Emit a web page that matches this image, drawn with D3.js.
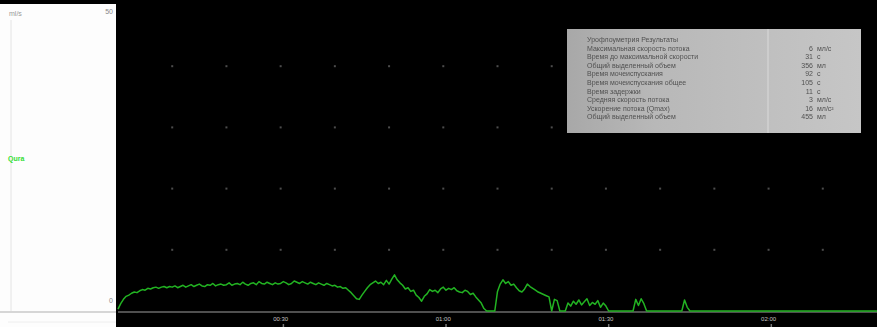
<!DOCTYPE html>
<html>
<head>
<meta charset="utf-8">
<script src="https://cdn.jsdelivr.net/npm/d3@7"></script>
<style>
  body { margin: 0; background: #000; }
  svg { display: block; }
</style>
</head>
<body>
<svg id="chart" width="877" height="327"></svg>
<script>
// flow rate, ml/s, every 0.5 s from 0 s
var flow = [
  0.3,1.2,1.9,2.4,2.6,2.9,3.1,3.0,3.3,3.5,
  3.4,3.7,3.6,3.8,3.9,3.7,3.9,4.0,3.8,4.0,
  3.9,4.1,3.8,4.0,4.2,3.9,4.1,4.3,4.0,4.2,
  4.4,4.1,4.0,4.3,4.2,4.5,4.1,4.3,4.4,4.2,
  4.3,4.6,4.2,4.4,4.5,4.3,4.7,4.4,4.2,4.5,
  4.6,4.3,4.8,4.5,4.4,4.7,4.5,4.3,4.6,4.4,
  4.5,4.8,4.6,4.3,4.5,4.9,4.7,4.5,4.8,4.6,
  4.4,4.7,4.5,4.3,4.6,4.4,4.2,4.5,4.3,4.1,
  4.2,3.9,4.0,3.7,3.8,3.4,3.0,2.5,2.0,1.9,
  2.6,3.2,3.8,4.3,4.6,4.9,4.5,4.7,4.3,5.0,
  4.4,5.2,5.9,5.1,4.6,4.2,3.6,3.8,3.2,3.4,
  2.6,2.2,1.6,2.4,2.8,3.5,3.2,3.4,3.0,3.6,
  3.9,3.4,3.7,3.5,3.8,3.3,3.1,3.0,3.4,3.2,
  2.7,2.9,2.3,1.8,1.3,0.4,0,0,0,0,
  3.2,4.4,5.1,4.5,4.8,4.2,4.4,3.8,3.3,3.1,
  3.6,4.4,4.0,3.7,3.4,3.1,2.9,2.7,2.5,2.3,
  0,1.9,1.7,0,0,0,1.3,0.8,1.6,1.1,
  1.8,1.0,1.5,2.0,0.9,1.4,1.1,1.7,0.6,1.3,
  0.8,0,0,0,0,0,0,0,0,0,
  0,1.9,0.9,2.0,1.2,0,0,0,0,0,
  0,0,0,0,0,0,0,0,0,1.8,
  0.6,0,0,0,0,0,0,0,0,0,
  0,0,0,0,0,0,0,0,0,0,
  0,0,0,0,0,0,0,0,0,0,
  0,0,0,0,0,0,0,0,0,0,
  0,0,0,0,0,0,0,0,0,0,
  0,0,0,0,0,0,0,0,0,0,
  0,0,0,0,0,0,0,0,0,0,
  0
];
var step = 0.5;
var timeTicks = [30, 60, 90, 120];
var timeLabels = ["00:30", "01:00", "01:30", "02:00"];
var gridTimes = [10,20,30,40,50,60,70,80,90,100,110,120,130];
var gridFlows = [10,20,30,40];
var yTicks = [0, 50];
var yUnit = "ml/s";
var seriesName = "Qura";

var infoNames = [
  "Урофлоуметрия Результаты",
  "Максимальная скорость потока",
  "Время до максимальной скорости",
  "Общий выделенный объем",
  "Время мочеиспускания",
  "Время мочеиспускания общее",
  "Время задержки",
  "Средняя скорость потока",
  "Ускорение потока (Qmax)",
  "Общий выделенный объем"
];
var infoValues = ["", "6", "31", "356", "92", "105", "11", "3", "16", "455"];
var infoUnits = ["", "мл/с", "с", "мл", "с", "с", "с", "мл/с", "мл/с²", "мл"];

var svg = d3.select("#chart"),
    W = +svg.attr("width"),
    H = +svg.attr("height"),
    plotLeft = 118, plotTop = 5, base = 311;

var x = d3.scaleLinear().domain([0, 140]).range([plotLeft, W]);
var y = d3.scaleLinear().domain([0, 50]).range([base, plotTop]);

svg.append("rect").attr("width", W).attr("height", H).attr("fill", "#000");

// left panel
svg.append("rect").attr("x", 0).attr("y", 4).attr("width", plotLeft - 2).attr("height", H - 4).attr("fill", "#fdfdfd");
svg.append("line").attr("x1", 11).attr("x2", 11).attr("y1", 20).attr("y2", base)
    .attr("stroke", "#e4e4e4");
svg.append("line").attr("x1", 0).attr("x2", plotLeft - 2).attr("y1", base + 1).attr("y2", base + 1)
    .attr("stroke", "#c8c8c8").attr("stroke-width", 1.5);
svg.append("line").attr("x1", 8).attr("x2", plotLeft - 2).attr("y1", 322).attr("y2", 322)
    .attr("stroke", "#eeeeee");

svg.append("text").attr("x", 9).attr("y", 16).text(yUnit)
    .attr("font-family", "Liberation Sans").attr("font-size", 7).attr("fill", "#999");
svg.append("text").attr("x", 8).attr("y", 161).text(seriesName)
    .attr("font-family", "Liberation Sans").attr("font-size", 7).attr("font-weight", "bold").attr("fill", "#33dd33");
svg.selectAll(".ytick").data(yTicks).enter().append("text")
    .attr("class", "ytick")
    .attr("x", plotLeft - 5)
    .attr("y", function(d) { return d == 0 ? y(d) - 8 : y(d) + 9; })
    .attr("text-anchor", "end")
    .attr("font-family", "Liberation Sans").attr("font-size", 7).attr("fill", "#888")
    .text(function(d) { return d; });

// dotted grid
var cells = [];
gridTimes.forEach(function(t) { gridFlows.forEach(function(f) { cells.push([t, f]); }); });
svg.selectAll(".dot").data(cells).enter().append("rect")
    .attr("class", "dot")
    .attr("x", function(d) { return x(d[0]) - 1; })
    .attr("y", function(d) { return y(d[1]) - 1; })
    .attr("width", 2).attr("height", 2)
    .attr("fill", "#4c4c4c");

// axis line
svg.append("line").attr("x1", plotLeft).attr("x2", W).attr("y1", base + 1).attr("y2", base + 1)
    .attr("stroke", "#6a6a6a").attr("stroke-width", 1.5);

svg.selectAll(".xlab").data(timeTicks).enter().append("text")
    .attr("class", "xlab")
    .attr("x", function(d) { return x(d); })
    .attr("y", 321)
    .attr("text-anchor", "middle")
    .attr("font-family", "Liberation Sans").attr("font-size", 6).attr("fill", "#c4c4c4")
    .text(function(d, i) { return timeLabels[i]; });
svg.selectAll(".xtick").data(timeTicks).enter().append("rect")
    .attr("class", "xtick")
    .attr("x", function(d) { return x(d) + 2; })
    .attr("y", 324).attr("width", 1.5).attr("height", 3)
    .attr("fill", "#777");

// flow curve
var line = d3.line()
    .x(function(d, i) { return x(i * step); })
    .y(function(d) { return y(d); });
svg.append("path").datum(flow)
    .attr("d", line)
    .attr("fill", "none")
    .attr("stroke", "#22b322")
    .attr("stroke-width", 1.5)
    .attr("stroke-linejoin", "round");

// info box
var bx = 567, by = 29, bw = 294, bh = 104;
var grad = svg.append("defs").append("linearGradient").attr("id", "boxg");
grad.append("stop").attr("offset", "0%").attr("stop-color", "#a8a8a8");
grad.append("stop").attr("offset", "30%").attr("stop-color", "#b8b8b8");
grad.append("stop").attr("offset", "100%").attr("stop-color", "#c6c6c6");
svg.select("defs").append("filter").attr("id", "soft")
    .append("feGaussianBlur").attr("stdDeviation", 0.35);

svg.append("rect").attr("x", bx).attr("y", by).attr("width", bw).attr("height", bh).attr("fill", "url(#boxg)");
svg.append("line").attr("x1", 768).attr("x2", 768).attr("y1", by).attr("y2", by + bh)
    .attr("stroke", "#cdcdcd").attr("stroke-width", 2);

var info = svg.append("g").attr("filter", "url(#soft)")
    .attr("font-family", "Liberation Sans").attr("font-size", 7).attr("fill", "#505050");
info.selectAll(".iname").data(infoNames).enter().append("text")
    .attr("x", 587)
    .attr("y", function(d, i) { return 42 + i * 8.6; })
    .text(function(d) { return d; });
info.selectAll(".ival").data(infoValues).enter().append("text")
    .attr("x", 813)
    .attr("y", function(d, i) { return 42 + i * 8.6; })
    .attr("text-anchor", "end")
    .text(function(d) { return d; });
info.selectAll(".iunit").data(infoUnits).enter().append("text")
    .attr("x", 817)
    .attr("y", function(d, i) { return 42 + i * 8.6; })
    .text(function(d) { return d; });
</script>
</body>
</html>
